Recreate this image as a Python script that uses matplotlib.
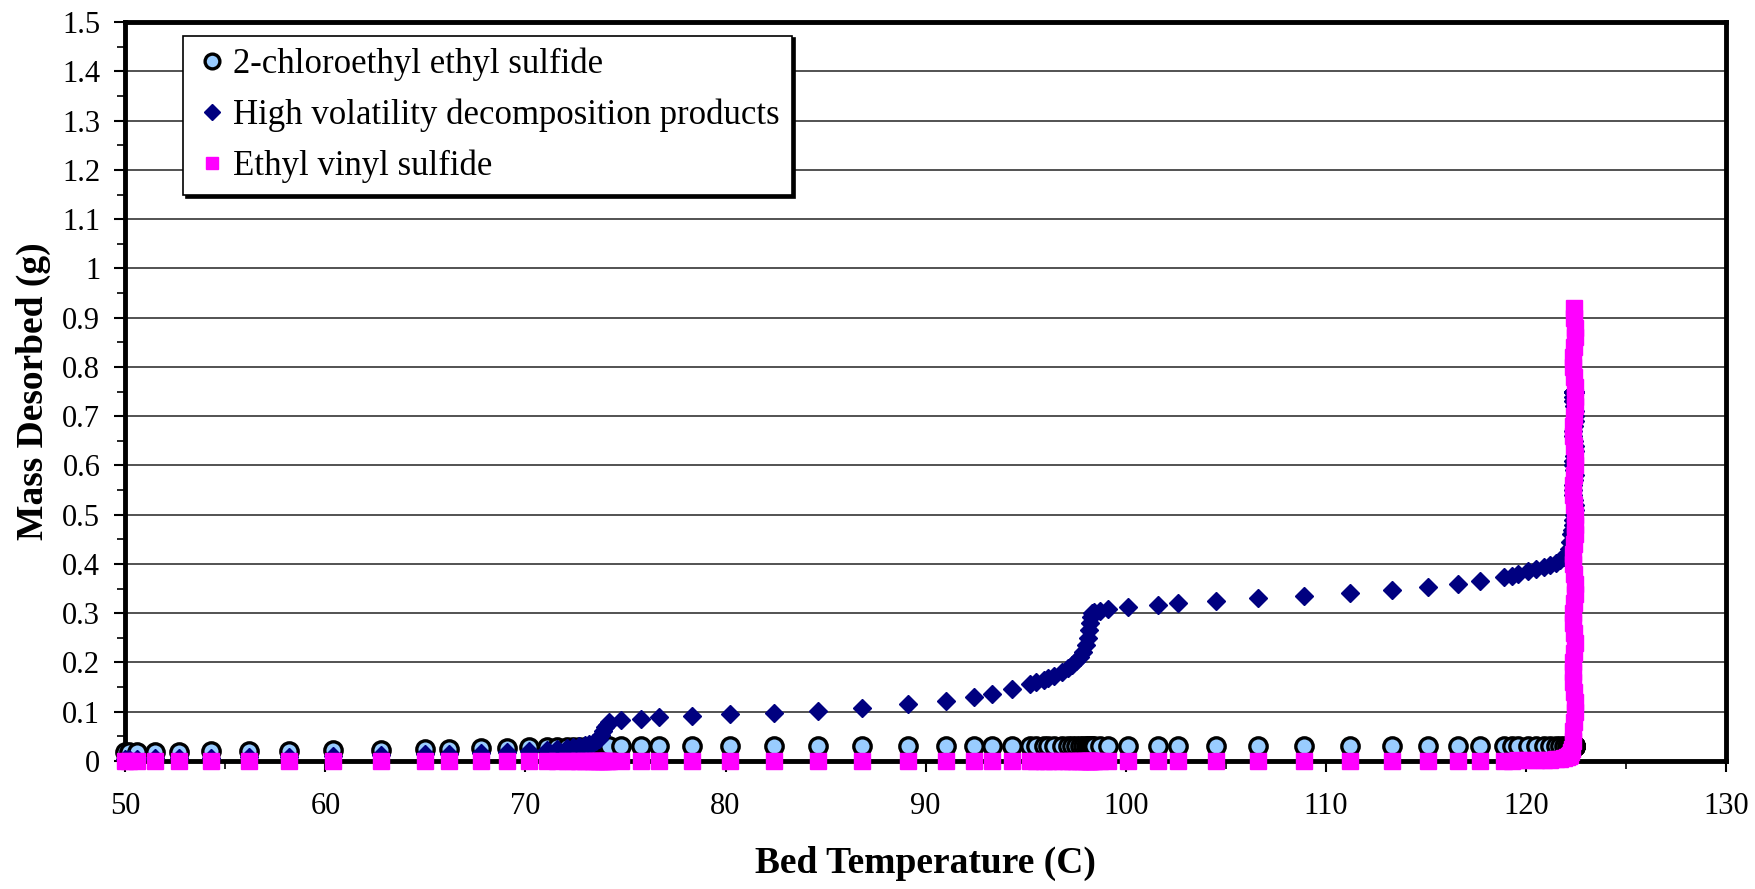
import matplotlib
matplotlib.use("Agg")
import matplotlib.pyplot as plt
from matplotlib.ticker import MultipleLocator, FuncFormatter

# Bed temperature (C), shared by the three series
temperature = [50.0, 50.2, 50.6, 51.5, 52.7, 54.3, 56.2, 58.2, 60.4, 62.8, 65.0, 66.2, 67.8, 69.1,
               70.2, 71.1, 71.6, 72.1, 72.4, 72.7, 73.0, 73.2, 73.4, 73.55, 73.7, 73.8, 73.9, 74.0,
               74.1, 74.2, 74.8, 75.8, 76.7, 78.3, 80.2, 82.4, 84.6, 86.8, 89.1, 91.0, 92.4, 93.3,
               94.3, 95.2, 95.5, 95.9, 96.1, 96.4, 96.8, 97.1, 97.3, 97.5, 97.7, 97.85, 98.0, 98.1,
               98.15, 98.2, 98.25, 98.3, 98.4, 98.7, 99.1, 100.1, 101.6, 102.6, 104.5, 106.6, 108.9,
               111.2, 113.3, 115.1, 116.6, 117.7, 118.9, 119.3, 119.6, 120.1, 120.5, 120.9, 121.2,
               121.5, 121.7, 121.9, 122.05, 122.15, 122.2, 122.25,
               # the vertical step near 122 C
               122.3, 122.34, 122.38, 122.42, 122.45, 122.44, 122.4, 122.36, 122.34, 122.38,
               122.43, 122.46, 122.42, 122.37, 122.35, 122.39, 122.44, 122.47, 122.43, 122.38,
               122.35, 122.39, 122.44, 122.48, 122.45, 122.4, 122.36, 122.35, 122.4, 122.45,
               122.47, 122.43, 122.38, 122.36, 122.39, 122.44, 122.47, 122.44, 122.4, 122.37,
               122.38, 122.42, 122.46, 122.44, 122.4, 122.4]

# 2-chloroethyl ethyl sulfide (g)
cees = [0.018, 0.018, 0.018, 0.019, 0.019, 0.020, 0.020, 0.021, 0.022, 0.023, 0.024, 0.025, 0.026, 0.027,
        0.028, 0.028, 0.028, 0.029, 0.029, 0.029, 0.029, 0.029, 0.029, 0.03, 0.03, 0.03, 0.03, 0.03,
        0.03, 0.03, 0.03, 0.03, 0.03, 0.03, 0.03, 0.03, 0.03, 0.03, 0.03, 0.03, 0.03, 0.03,
        0.03, 0.03, 0.03, 0.03, 0.03, 0.03, 0.03, 0.03, 0.03, 0.03, 0.03, 0.03, 0.03, 0.03,
        0.03, 0.03, 0.03, 0.03, 0.03, 0.03, 0.03, 0.03, 0.03, 0.03, 0.03, 0.03, 0.03,
        0.03, 0.03, 0.03, 0.03, 0.03, 0.03, 0.03, 0.03, 0.03, 0.03, 0.03, 0.03,
        0.03, 0.03, 0.03, 0.03, 0.03, 0.03, 0.03,
        0.03, 0.03, 0.03, 0.03, 0.03, 0.03, 0.03, 0.03, 0.03, 0.03,
        0.03, 0.03, 0.03, 0.03, 0.03, 0.03, 0.03, 0.03, 0.03, 0.03,
        0.03, 0.03, 0.03, 0.03, 0.03, 0.03, 0.03, 0.03, 0.03, 0.03,
        0.03, 0.03, 0.03, 0.03, 0.03, 0.03, 0.03, 0.03, 0.03, 0.03,
        0.03, 0.03, 0.03, 0.03, 0.03, 0.03]

# High volatility decomposition products (g)
high_vol = [0.005, 0.005, 0.005, 0.006, 0.006, 0.007, 0.008, 0.009, 0.010, 0.012, 0.014, 0.015, 0.016, 0.018,
            0.020, 0.022, 0.024, 0.026, 0.028, 0.030, 0.032, 0.034, 0.037, 0.040, 0.045, 0.052, 0.060, 0.068,
            0.074, 0.079, 0.083, 0.086, 0.089, 0.091, 0.095, 0.098, 0.102, 0.108, 0.115, 0.121, 0.130, 0.137,
            0.146, 0.156, 0.160, 0.165, 0.168, 0.172, 0.180, 0.188, 0.195, 0.203, 0.212, 0.222, 0.235, 0.250,
            0.265, 0.280, 0.292, 0.300, 0.303, 0.305, 0.308, 0.313, 0.317, 0.320, 0.325, 0.330, 0.336,
            0.341, 0.348, 0.354, 0.360, 0.366, 0.373, 0.376, 0.380, 0.385, 0.390, 0.394, 0.398,
            0.403, 0.408, 0.414, 0.420, 0.430, 0.445, 0.460,
            0.47, 0.48, 0.49, 0.50, 0.51, 0.52, 0.53, 0.54, 0.55, 0.56,
            0.57, 0.58, 0.59, 0.60, 0.61, 0.62, 0.63, 0.64, 0.65, 0.66,
            0.67, 0.68, 0.69, 0.70, 0.71, 0.72, 0.73, 0.74, 0.75, 0.75,
            0.75, 0.75, 0.75, 0.75, 0.75, 0.75, 0.75, 0.75, 0.75, 0.75,
            0.75, 0.75, 0.75, 0.75, 0.75, 0.75]

# Ethyl vinyl sulfide (g)
evs = [0.0, 0.0, 0.0, 0.0, 0.0, 0.0, 0.0, 0.0, 0.0, 0.0, 0.0, 0.0, 0.0, 0.0,
       0.0, 0.0, 0.0, 0.0, 0.0, 0.0, 0.0, 0.0, 0.0, 0.0, 0.0, 0.0, 0.0, 0.0,
       0.0, 0.0, 0.0, 0.0, 0.0, 0.0, 0.0, 0.0, 0.0, 0.0, 0.0, 0.0, 0.0, 0.0,
       0.0, 0.0, 0.0, 0.0, 0.0, 0.0, 0.0, 0.0, 0.0, 0.0, 0.0, 0.0, 0.0, 0.0,
       0.0, 0.0, 0.0, 0.0, 0.0, 0.0, 0.0, 0.0, 0.0, 0.0, 0.0, 0.0, 0.0,
       0.0, 0.0, 0.0, 0.0, 0.0, 0.0, 0.0, 0.001, 0.001, 0.002, 0.002, 0.003,
       0.004, 0.005, 0.006, 0.008, 0.010, 0.013, 0.018,
       0.025, 0.04, 0.06, 0.08, 0.10, 0.12, 0.14, 0.16, 0.18, 0.20,
       0.22, 0.24, 0.26, 0.28, 0.30, 0.32, 0.34, 0.36, 0.38, 0.40,
       0.42, 0.44, 0.46, 0.48, 0.50, 0.52, 0.54, 0.56, 0.58, 0.60,
       0.62, 0.64, 0.66, 0.68, 0.70, 0.72, 0.74, 0.76, 0.78, 0.80,
       0.82, 0.84, 0.86, 0.88, 0.90, 0.92]

y_ticks = [0, 0.1, 0.2, 0.3, 0.4, 0.5, 0.6, 0.7, 0.8, 0.9, 1.0, 1.1, 1.2, 1.3, 1.4, 1.5]
x_ticks = [50, 60, 70, 80, 90, 100, 110, 120, 130]

plt.rcParams['font.family'] = ['Liberation Serif', 'DejaVu Serif']

fig = plt.figure(figsize=(17.55, 8.89), dpi=100)
ax = fig.add_axes([0.0714, 0.144, 0.912, 0.831])

ax.plot(temperature, cees, linestyle='none', marker='o', markersize=12.5,
        markerfacecolor='#99ccff', markeredgecolor='black', markeredgewidth=2.4,
        label='2-chloroethyl ethyl sulfide', zorder=3, clip_on=False)
ax.plot(temperature, high_vol, linestyle='none', marker='D', markersize=9.5,
        markerfacecolor='#000080', markeredgecolor='#000080',
        label='High volatility decomposition products', zorder=4, clip_on=False)
ax.plot(temperature, evs, linestyle='none', marker='s', markersize=11,
        markerfacecolor='#ff00ff', markeredgecolor='#ff00ff',
        label='Ethyl vinyl sulfide', zorder=5, clip_on=False)

ax.set_xlim(50, 130)
ax.set_ylim(0, 1.5)
ax.set_xticks(x_ticks)
ax.set_yticks(y_ticks)
ax.xaxis.set_minor_locator(MultipleLocator(5))
ax.yaxis.set_minor_locator(MultipleLocator(0.05))
ax.yaxis.set_major_formatter(FuncFormatter(lambda v, p: '%g' % round(v, 2)))
ax.tick_params(axis='both', which='major', direction='out', length=8, width=1.5,
               labelsize=22, colors='black')
ax.tick_params(axis='x', which='major', pad=14)
ax.tick_params(axis='y', which='major', pad=10)
ax.tick_params(axis='both', which='minor', direction='out', length=6, width=1.2)

ax.grid(axis='y', which='major', color='#444444', linewidth=1.3)
ax.set_axisbelow(True)
for s in ax.spines.values():
    s.set_linewidth(3.5)

ax.set_xlabel('Bed Temperature (C)', fontsize=27, fontweight='bold', labelpad=18)
ax.set_ylabel('Mass Desorbed (g)', fontsize=27, fontweight='bold', labelpad=8)

leg = ax.legend(loc='upper left', bbox_to_anchor=(0.036, 0.982), fontsize=25,
                frameon=True, fancybox=False, shadow={'color': 'black', 'alpha': 1.0},
                borderaxespad=0, handletextpad=0.1, handlelength=1.0,
                labelspacing=0.5, borderpad=0.35, markerscale=0.85)
leg.get_frame().set_edgecolor('black')
leg.get_frame().set_linewidth(1.2)
leg.set_zorder(10)

fig.savefig('out.png', dpi=100)
